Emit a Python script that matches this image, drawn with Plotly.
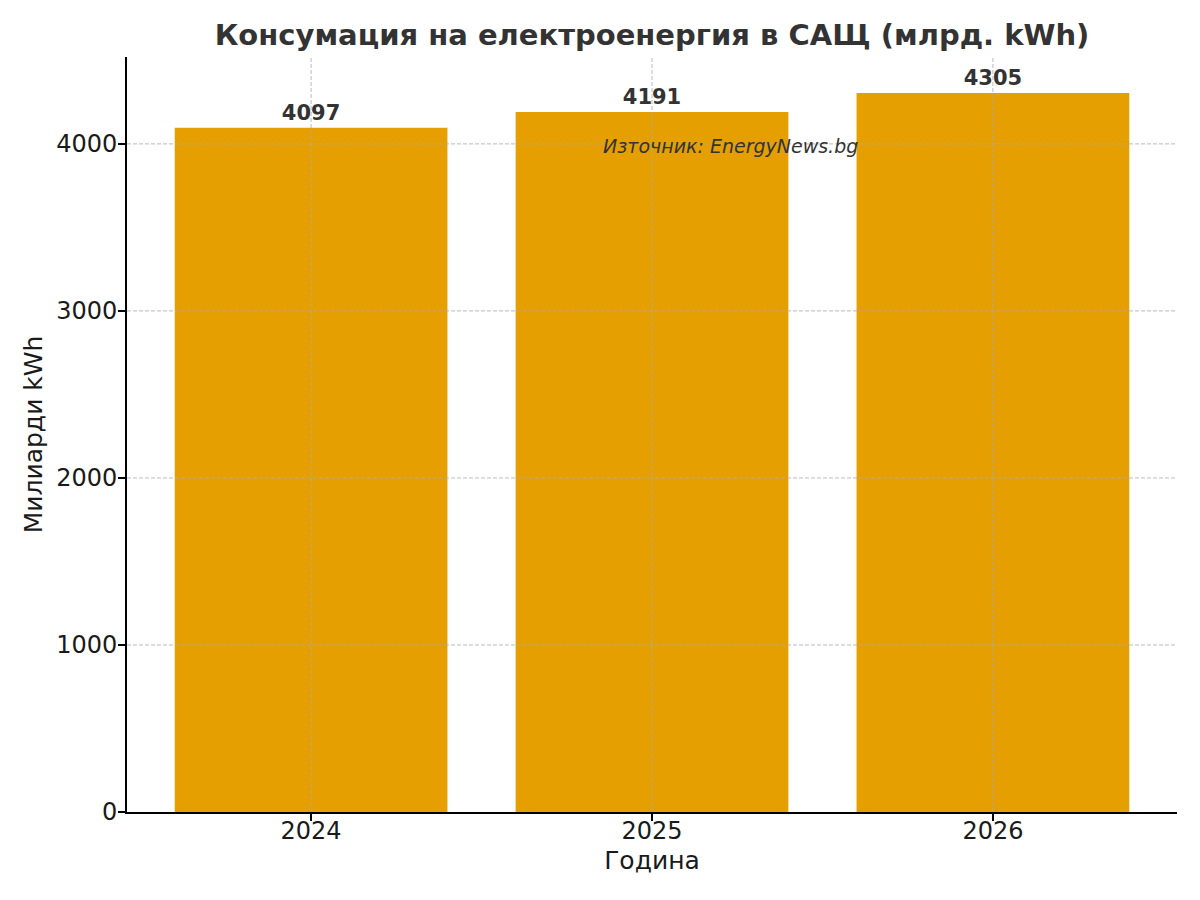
import plotly.graph_objects as go

years = ["2024", "2025", "2026"]
consumption = [4097, 4191, 4305]
y_ticks = [0, 1000, 2000, 3000, 4000]

title = "Консумация на електроенергия в САЩ (млрд. kWh)"
x_title = "Година"
y_title = "Милиарди kWh"
source_note = "Източник: EnergyNews.bg"

FONT = "DejaVu Sans"
x_idx = list(range(len(years)))

fig = go.Figure()
fig.add_trace(go.Bar(
    x=x_idx, y=consumption, width=0.8,
    marker=dict(color="#E69F00", line=dict(width=0)),
    text=[str(v) for v in consumption],
    textposition="outside", cliponaxis=False,
    textfont=dict(family=FONT, size=21, color="#333333", weight="bold"),
    showlegend=False,
))

GRID = dict(color="rgba(170,170,170,0.8)", width=1, dash="4px,2px")
# grid lines drawn above the bars (as in the reference)
for t in y_ticks[1:]:
    fig.add_shape(type="line", xref="paper", yref="y", x0=0, x1=1, y0=t, y1=t,
                  line=GRID, layer="above")
for i in x_idx:
    fig.add_shape(type="line", xref="x", yref="paper", x0=i, x1=i, y0=0, y1=1,
                  line=GRID, layer="above")

fig.add_annotation(x=1.23, y=3990, xref="x", yref="y", text=f"<i>{source_note}</i>",
                   showarrow=False, font=dict(family=FONT, size=19, color="#333333"),
                   xanchor="center", yanchor="middle")

ymax = max(consumption) * 1.05
# page body has an 8px margin, so the figure is sized 8px smaller
fig.update_layout(
    width=1192, height=892,
    paper_bgcolor="white", plot_bgcolor="white",
    margin=dict(l=119, r=23, t=49, b=88),
    title=dict(text=f"<b>{title}</b>", x=0.5, xref="paper", xanchor="center",
               y=0.970, yanchor="middle", yref="container",
               font=dict(family=FONT, size=29, color="#333333")),
    font=dict(family=FONT, color="#1a1a1a"),
    bargap=0.2,
)
fig.update_xaxes(
    range=[-0.54, 2.54], tickvals=x_idx, ticktext=years,
    showgrid=False, zeroline=False,
    showline=True, linecolor="black", linewidth=1.6,
    ticks="outside", ticklen=7, tickwidth=1.6, tickcolor="black",
    ticklabelstandoff=-11,
    tickfont=dict(family=FONT, size=24, color="#1a1a1a"),
    title=dict(text=x_title, font=dict(family=FONT, size=25, color="#1a1a1a"), standoff=8),
)
fig.update_yaxes(
    range=[0, ymax], tickvals=y_ticks,
    showgrid=False, zeroline=False,
    showline=True, linecolor="black", linewidth=1.6,
    ticks="outside", ticklen=7, tickwidth=1.6, tickcolor="black",
    ticklabelstandoff=-4,
    tickfont=dict(family=FONT, size=24, color="#1a1a1a"),
    title=dict(text=y_title, font=dict(family=FONT, size=25, color="#1a1a1a"), standoff=7),
)

fig.write_html("out.html")
